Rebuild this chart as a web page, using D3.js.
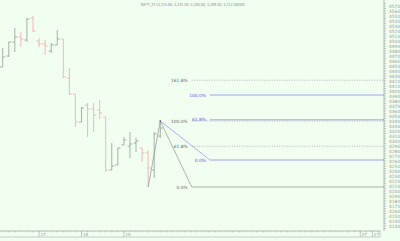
<!DOCTYPE html>
<html>
<head>
<meta charset="utf-8">
<script src="https://cdn.jsdelivr.net/npm/d3@7"></script>
<style>
  html, body { margin: 0; padding: 0; background: #f0fff0; }
  svg { display: block; }
  text { font-family: "DejaVu Sans", sans-serif; }
</style>
</head>
<body>
<script>
// bars (one per session slot)
const opens  = [4448,4470,4498,4508,4502,4546,4500,4494,4480,4492,4504,4426,4394,4338,4372,4364,4362,4348,4242,4252,4292,4290,4296,4286,4276,4242,4310]
const highs  = [4486,4498,4526,4518,4546,4550,4506,4502,4496,4522,4504,4446,4394,4368,4376,4376,4382,4348,4296,4286,4308,4318,4306,4286,4282,4318,4340]
const lows   = [4448,4468,4478,4488,4498,4518,4488,4472,4476,4492,4426,4392,4328,4338,4308,4318,4344,4238,4242,4252,4292,4266,4278,4258,4208,4226,4306]
const closes = [4468,4498,4508,4504,4544,4520,4494,4490,4492,4504,4428,4394,4338,4366,4364,4352,4356,4242,4250,4286,4302,4294,4300,4276,4246,4314,4326]

// fibonacci tools
const grayLow = 4208, grayHigh = 4340
const grayLevels = [0, 0.618, 1, 1.618]
const grayDashed = [false, true, true, true]
const blueLow = 4262, blueHigh = 4392
const blueLevels = [0, 0.618, 1]
const swingLowIdx = 24, swingHighIdx = 26
const grayStartIdx = 31.2, blueStartIdx = 34.2

const yTicks = d3.range(4570, 4125, -10)
const dayStarts = [6, 13, 20, 59, 61]
const dayLabels = ["17", "18", "19", "27", "27"]
const title = "NIFTY_F1 (4,215.00, 4,231.00, 4,205.00, 4,209.00, 4,212.00000)"

const W = 400, H = 241
const axisX = 384, axisBottom = 231

const svg = d3.select("body").append("svg").attr("width", W).attr("height", H)
svg.append("rect").attr("width", W).attr("height", H).attr("fill", "#f0fff0")

const x = d3.scaleLinear().domain([0, 63]).range([2.7, 2.7 + 63 * 6.06])
const y = d3.scaleLinear().domain([4570, 4130]).range([6, 226])

// title
svg.append("text").attr("x", 141).attr("y", 6)
  .attr("font-size", 4.2).attr("fill", "#888")
  .attr("textLength", 104).attr("lengthAdjust", "spacingAndGlyphs")
  .text(title)

// right axis
const yAxis = svg.append("g")
yAxis.append("line").attr("x1", axisX).attr("x2", axisX).attr("y1", 0).attr("y2", axisBottom)
  .attr("stroke", "#a0a8a0").attr("stroke-width", 0.8)
yAxis.selectAll("line.minor").data(d3.range(4575, 4120, -5)).join("line")
  .attr("class", "minor")
  .attr("x1", axisX).attr("x2", axisX + 2)
  .attr("y1", d => y(d)).attr("y2", d => y(d))
  .attr("stroke", "#a0a8a0").attr("stroke-width", 0.6)
yAxis.selectAll("text").data(yTicks).join("text")
  .attr("x", 389).attr("y", d => y(d) + 1.6)
  .attr("font-size", 4.4).attr("fill", "#999")
  .text(d => d)

// bottom axis box
const xAxis = svg.append("g")
xAxis.append("line").attr("x1", 0).attr("x2", 380).attr("y1", axisBottom).attr("y2", axisBottom)
  .attr("stroke", "#a0a8a0").attr("stroke-width", 0.8)
xAxis.append("line").attr("x1", 0).attr("x2", 380).attr("y1", axisBottom + 6).attr("y2", axisBottom + 6)
  .attr("stroke", "#aab").attr("stroke-width", 0.6)
xAxis.append("line").attr("x1", 380).attr("x2", 380).attr("y1", axisBottom).attr("y2", axisBottom + 6)
  .attr("stroke", "#aab").attr("stroke-width", 0.6)
xAxis.selectAll("line.tick").data(d3.range(0, 63)).join("line")
  .attr("class", "tick")
  .attr("x1", d => x(d)).attr("x2", d => x(d))
  .attr("y1", axisBottom).attr("y2", axisBottom + 1.5)
  .attr("stroke", "#a0a8a0").attr("stroke-width", 0.5)
xAxis.selectAll("line.day").data(dayStarts).join("line")
  .attr("class", "day")
  .attr("x1", d => x(d)).attr("x2", d => x(d))
  .attr("y1", axisBottom).attr("y2", axisBottom + 6)
  .attr("stroke", "#a0a8a0").attr("stroke-width", 0.6)
xAxis.selectAll("text").data(dayStarts).join("text")
  .attr("x", d => x(d) + 1.5).attr("y", axisBottom + 5)
  .attr("font-size", 4).attr("fill", "#999")
  .text((d, i) => dayLabels[i])

// ohlc bars
const up = "#929f92", down = "#f4a6a6"
const bars = svg.append("g").selectAll("g").data(opens).join("g")
  .attr("stroke", (d, i) => closes[i] >= opens[i] ? up : down)
  .attr("stroke-width", 0.8)
bars.append("line")
  .attr("x1", (d, i) => x(i)).attr("x2", (d, i) => x(i))
  .attr("y1", (d, i) => y(highs[i])).attr("y2", (d, i) => y(lows[i]))
bars.append("line")
  .attr("x1", (d, i) => x(i) - 2.5).attr("x2", (d, i) => x(i))
  .attr("y1", (d, i) => y(opens[i])).attr("y2", (d, i) => y(opens[i]))
bars.append("line")
  .attr("x1", (d, i) => x(i)).attr("x2", (d, i) => x(i) + 2.5)
  .attr("y1", (d, i) => y(closes[i])).attr("y2", (d, i) => y(closes[i]))

// fib tools
const fib = svg.append("g")
const gray = "#8f948f", blue = "#8c8cf4"
// blue levels
blueLevels.forEach(l => {
  const v = blueLow + l * (blueHigh - blueLow)
  fib.append("line").attr("x1", x(blueStartIdx)).attr("x2", axisX)
    .attr("y1", y(v)).attr("y2", y(v)).attr("stroke", blue).attr("stroke-width", 0.8)
  fib.append("text").attr("x", x(blueStartIdx) - 4).attr("y", y(v) + 1.6)
    .attr("text-anchor", "end").attr("font-size", 4.4).attr("fill", "#5a5aee")
    .text((l * 100).toFixed(1) + "%")
})
fib.append("line")
  .attr("x1", x(swingHighIdx)).attr("y1", y(grayHigh))
  .attr("x2", x(blueStartIdx)).attr("y2", y(blueLow))
  .attr("stroke", blue).attr("stroke-width", 0.7)
// gray levels
grayLevels.forEach((l, i) => {
  const v = grayLow + l * (grayHigh - grayLow)
  fib.append("line").attr("x1", x(grayStartIdx)).attr("x2", axisX)
    .attr("y1", y(v)).attr("y2", y(v)).attr("stroke", gray).attr("stroke-width", 0.7)
    .attr("stroke-dasharray", grayDashed[i] ? "1,1.5" : null)
  fib.append("text").attr("x", x(grayStartIdx) - 4).attr("y", y(v) + 1.6)
    .attr("text-anchor", "end").attr("font-size", 4.4).attr("fill", "#666")
    .text((l * 100).toFixed(1) + "%")
})
fib.append("path")
  .attr("d", d3.line()([[x(swingLowIdx), y(grayLow)], [x(swingHighIdx), y(grayHigh)], [x(grayStartIdx), y(grayLow)]]))
  .attr("fill", "none").attr("stroke", gray).attr("stroke-width", 0.7)
fib.append("circle").attr("cx", x(swingHighIdx)).attr("cy", y(grayHigh)).attr("r", 0.8).attr("fill", "#445")
</script>
</body>
</html>
